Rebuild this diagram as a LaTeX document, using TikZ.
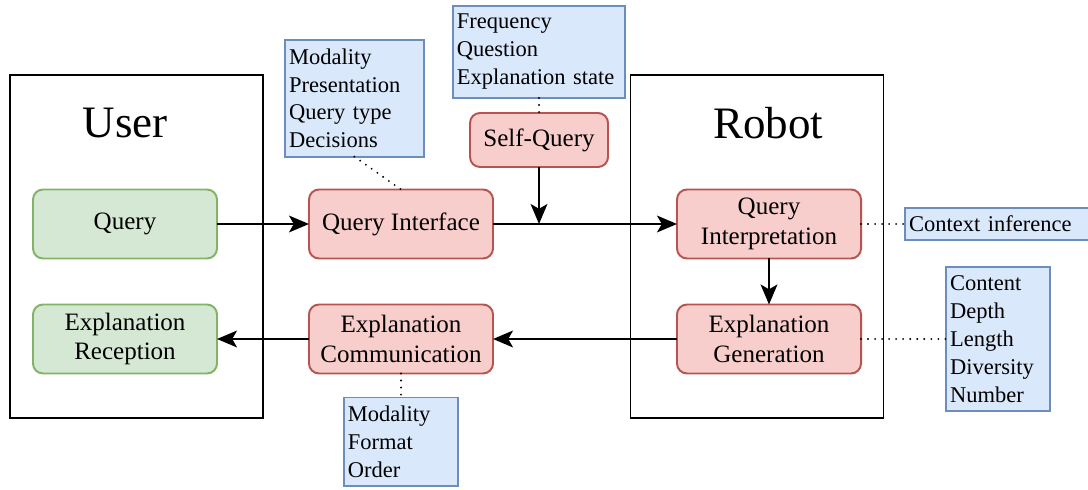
\documentclass[tikz,border=0pt]{standalone}
\usepackage{fontspec}
\setmainfont{Liberation Serif}
\usepackage{tikz}
\usetikzlibrary{arrows.meta, positioning, calc}

\definecolor{usergreen}{HTML}{D5E8D4}
\definecolor{userdraw}{HTML}{82B366}
\definecolor{stepred}{HTML}{F8CECC}
\definecolor{stepdraw}{HTML}{B85450}
\definecolor{noteblue}{HTML}{DAE8FC}
\definecolor{notedraw}{HTML}{6C8EBF}

\begin{document}
\begin{tikzpicture}[
    % 樣式定義
    agent_frame/.style={
        draw=black, line width=1.4pt, minimum width=6.325cm, minimum height=8.575cm
    },
    agent_title/.style={
        font=\fontsize{32}{38}\selectfont
    },
    user_block/.style={
        draw=userdraw, fill=usergreen, line width=1.4pt, rounded corners=0.25cm,
        align=center, minimum width=4.6cm, minimum height=1.725cm, outer sep=0pt,
        font=\fontsize{17.8}{21.3}\selectfont
    },
    process_block/.style={
        draw=stepdraw, fill=stepred, line width=1.4pt, rounded corners=0.25cm,
        align=center, minimum width=4.6cm, minimum height=1.725cm, outer sep=0pt,
        font=\fontsize{17.8}{21.3}\selectfont
    },
    note_block/.style={
        draw=notedraw, fill=noteblue, line width=1.4pt, align=left, outer sep=0pt,
        inner xsep=3pt, inner ysep=6pt,
        font=\fontsize{16}{19.9}\selectfont
    },
    flow/.style={
        -{Stealth[length=0.5cm, width=0.42cm, inset=0.12cm]}, line width=1.4pt
    },
    note_link/.style={
        line width=1.5pt, line cap=round, dash pattern=on 0pt off 5pt
    }
]
    \useasboundingbox (0,0) rectangle (27.2,-12.25);

    % --- 1. AGENT FRAMES ---
    \node[agent_frame] (user_frame) at (3.4125,-6.1625) {};
    \node[agent_frame] (robot_frame) at (18.925,-6.1625) {};
    \node[agent_title] (user_title) at (3.125,-3.075) {User};
    \node[agent_title] (robot_title) at (19.2,-3.075) {Robot};

    % --- 2. USER SIDE ---
    \node[user_block] (query) at (3.125,-5.6) {Query};
    \node[user_block, below=1.15cm of query] (reception) {Explanation\\Reception};

    % --- 3. INTERFACE STEPS ---
    \node[process_block, right=2.3cm of query] (query_interface) {Query Interface};
    \node[process_block, below=1.15cm of query_interface] (communication) {Explanation\\Communication};
    \node[process_block, minimum width=3.45cm, minimum height=1.35cm] (self_query) at (13.475,-3.5) {Self-Query};

    % --- 4. ROBOT SIDE ---
    \node[process_block, right=4.6cm of query_interface] (interpretation) {Query\\Interpretation};
    \node[process_block, below=1.15cm of interpretation] (generation) {Explanation\\Generation};

    % --- 5. NOTES ---
    \node[note_block, text width=3.26cm, anchor=north west] (interface_note) at (7.125,-1.0) {Modality\\Presentation\\Query type\\Decisions};
    \node[note_block, text width=4.11cm, above=0.375cm of self_query] (self_note) {Frequency\\Question\\Explanation state};
    \node[note_block, text width=4.8cm, right=1.1cm of interpretation] (context_note) {Context inference};
    \node[note_block, text width=2.39cm, right=2.125cm of generation] (generation_note) {Content\\Depth\\Length\\Diversity\\Number};
    \node[note_block, text width=2.66cm, below=0.6cm of communication] (communication_note) {Modality\\Format\\Order};

    % --- 6. FLOWS ---
    \coordinate (merge) at (self_query.south |- query_interface.east);
    \draw[flow] (query.east) -- (query_interface.west);
    \draw[flow] (query_interface.east) -- (interpretation.west);
    \draw[flow] (self_query.south) -- (merge);
    \draw[flow] (interpretation.south) -- (generation.north);
    \draw[flow] (generation.west) -- (communication.east);
    \draw[flow] (communication.west) -- (reception.east);

    % note links
    \draw[note_link] (interface_note.south) -- (query_interface.north);
    \draw[note_link] (self_note.south) -- (self_query.north);
    \draw[note_link] (interpretation.east) -- (context_note.west);
    \draw[note_link] (generation.east) -- (generation_note.west);
    \draw[note_link] (communication.south) -- (communication_note.north);

\end{tikzpicture}
\end{document}
